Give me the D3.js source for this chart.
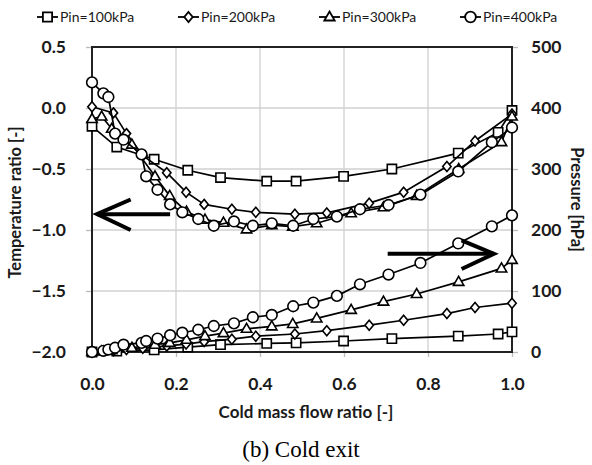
<!DOCTYPE html>
<html>
<head>
<meta charset="utf-8">
<script src="https://cdn.jsdelivr.net/npm/d3@7"></script>
<style>
body { margin: 0; background: #fff; }
svg text { font-family: Lato, "Open Sans", sans-serif; }
</style>
</head>
<body>
<div id="chart"></div>
<script>
// series names and markers
var seriesNames = ["Pin=100kPa", "Pin=200kPa", "Pin=300kPa", "Pin=400kPa"];
var seriesMarks = ["square", "diamond", "triangle", "circle"];

// Pin=100kPa
var x100 = [0, 0.059, 0.148, 0.228, 0.306, 0.416, 0.486, 0.599, 0.714, 0.872, 0.967, 1.0];
var t100 = [-0.15, -0.32, -0.42, -0.51, -0.57, -0.60, -0.60, -0.56, -0.50, -0.37, -0.20, -0.02];
var p100 = [0, 1.5, 3.5, 8, 12, 14, 15, 18, 22, 26, 29.5, 33];

// Pin=200kPa
var x200 = [0, 0.051, 0.082, 0.121, 0.178, 0.224, 0.267, 0.333, 0.39, 0.483, 0.559, 0.66, 0.742, 0.845, 0.912, 1.0];
var t200 = [0.01, -0.04, -0.21, -0.39, -0.53, -0.69, -0.79, -0.83, -0.855, -0.87, -0.86, -0.78, -0.69, -0.48, -0.27, -0.05];
var p200 = [0, 2, 4, 6, 10, 13, 17, 21, 26, 29.5, 35, 44, 52, 63, 73, 80];

// Pin=300kPa
var x300 = [0, 0.023, 0.047, 0.095, 0.15, 0.185, 0.225, 0.269, 0.313, 0.368, 0.428, 0.478, 0.535, 0.617, 0.694, 0.773, 0.873, 0.975, 1.0];
var t300 = [-0.09, -0.07, -0.17, -0.30, -0.56, -0.72, -0.85, -0.915, -0.94, -0.995, -0.96, -0.973, -0.945, -0.863, -0.814, -0.72, -0.50, -0.28, -0.07];
var p300 = [0, 1, 3, 7, 12, 15, 20, 26, 31, 38, 42, 46, 55, 69, 82.5, 95, 115, 137, 151];

// Pin=400kPa
var x400 = [0, 0.027, 0.039, 0.055, 0.075, 0.118, 0.129, 0.156, 0.186, 0.215, 0.253, 0.29, 0.338, 0.383, 0.428, 0.479, 0.527, 0.583, 0.638, 0.706, 0.782, 0.872, 0.952, 1.0];
var t400 = [0.21, 0.12, 0.09, -0.21, -0.26, -0.38, -0.56, -0.67, -0.79, -0.855, -0.91, -0.965, -0.93, -0.965, -0.945, -0.965, -0.91, -0.89, -0.83, -0.795, -0.71, -0.52, -0.28, -0.16];
var p400 = [0, 2, 4, 7, 12, 15, 18, 22, 27.5, 31.6, 36.5, 42.6, 47, 57, 60.7, 75, 81, 92, 111, 127, 146, 178, 206, 224];

// tick values
var xTicks = [0, 0.2, 0.4, 0.6, 0.8, 1.0];
var tTicks = [0.5, 0.0, -0.5, -1.0, -1.5, -2.0];
var pTicks = [500, 400, 300, 200, 100, 0];

var svgWidth = 592, svgHeight = 465;
var margin = { top: 47, right: 80, bottom: 113, left: 92 };
var width = svgWidth - margin.left - margin.right;
var height = svgHeight - margin.top - margin.bottom;

var svg = d3.select("#chart").append("svg")
    .attr("width", svgWidth)
    .attr("height", svgHeight);

var g = svg.append("g")
    .attr("transform", "translate(" + margin.left + "," + margin.top + ")");

var x = d3.scaleLinear().domain([0, 1]).range([0, width]);
var yT = d3.scaleLinear().domain([-2, 0.5]).range([height, 0]);
var yP = d3.scaleLinear().domain([0, 500]).range([height, 0]);

// grid
g.append("g").selectAll("line").data(xTicks.slice(1, -1)).enter().append("line")
    .attr("x1", d => x(d)).attr("x2", d => x(d))
    .attr("y1", 0).attr("y2", height)
    .attr("stroke", "#d0d0d0").attr("stroke-width", 1.3);
g.append("g").selectAll("line").data(tTicks.slice(1, -1)).enter().append("line")
    .attr("x1", 0).attr("x2", width)
    .attr("y1", d => yT(d)).attr("y2", d => yT(d))
    .attr("stroke", "#d0d0d0").attr("stroke-width", 1.3);

// axes
var axL = g.append("g")
    .call(d3.axisLeft(yT).tickValues(tTicks).tickFormat(d3.format(".1f")).tickSize(6).tickPadding(20));
var axR = g.append("g").attr("transform", "translate(" + width + ",0)")
    .call(d3.axisRight(yP).tickValues(pTicks).tickSize(6).tickPadding(13));
var axB = g.append("g").attr("transform", "translate(0," + height + ")")
    .call(d3.axisBottom(x).tickValues(xTicks).tickFormat(d3.format(".1f")).tickSize(5).tickPadding(21));
[axL, axR, axB].forEach(function (a) {
    a.select(".domain").remove();
    a.selectAll(".tick line").attr("stroke", "#bbbbbb").attr("stroke-width", 1.3);
    a.selectAll(".tick text").attr("font-family", "Lato, sans-serif")
        .attr("font-size", 17.5).attr("font-weight", "bold").attr("fill", "#1a1a1a");
});

// frame
g.append("rect").attr("x", 0).attr("y", 0).attr("width", width).attr("height", height)
    .attr("fill", "none").attr("stroke", "#222").attr("stroke-width", 2);

// series
var line = d3.line();
function markerPath(type) {
    if (type === "square") return d3.symbol(d3.symbolSquare, 85)();
    if (type === "diamond") return "M0,-5L4.2,0L0,5L-4.2,0Z";
    if (type === "triangle") return "M0,-5.5L5.2,3.5L-5.2,3.5Z";
    return d3.symbol(d3.symbolCircle, 90)();
}

function drawSeries(xs, ys, scale, mark) {
    var pts = xs.map(function (v, i) { return [x(v), scale(ys[i])]; });
    var sg = g.append("g");
    sg.append("path").attr("d", line(pts))
        .attr("fill", "none").attr("stroke", "#000").attr("stroke-width", 1.7);
    sg.selectAll("path.m").data(pts).enter().append("path")
        .attr("class", "m")
        .attr("d", markerPath(mark))
        .attr("transform", d => "translate(" + d[0] + "," + d[1] + ")")
        .attr("fill", "#fff").attr("stroke", "#000").attr("stroke-width", 1.6);
}

var xsAll = [x100, x200, x300, x400];
var tsAll = [t100, t200, t300, t400];
var psAll = [p100, p200, p300, p400];
for (var i = 0; i < 4; i++) {
    drawSeries(xsAll[i], tsAll[i], yT, seriesMarks[i]);
}
for (var i = 0; i < 4; i++) {
    drawSeries(xsAll[i], psAll[i], yP, seriesMarks[i]);
}

// arrows
var arrowL = [[x(0.012), yT(-0.87)], [x(0.186), yT(-0.87)]];
g.append("path").attr("d", line(arrowL)).attr("stroke", "#000").attr("stroke-width", 4).attr("fill", "none");
g.append("path").attr("d", line([[x(0.092), yT(-0.75)], [x(0.012), yT(-0.87)], [x(0.092), yT(-1.0)]]))
    .attr("stroke", "#000").attr("stroke-width", 4).attr("fill", "none");
var arrowR = [[x(0.704), yP(161)], [x(0.957), yP(161)]];
g.append("path").attr("d", line(arrowR)).attr("stroke", "#000").attr("stroke-width", 4).attr("fill", "none");
g.append("path").attr("d", line([[x(0.88), yP(183)], [x(0.957), yP(161)], [x(0.88), yP(136)]]))
    .attr("stroke", "#000").attr("stroke-width", 4).attr("fill", "none");

// axis titles
svg.append("text").attr("transform", "translate(15," + (margin.top + height / 2 + 3) + ") rotate(-90)")
    .attr("text-anchor", "middle").attr("dy", "0.35em").attr("font-size", 16.5).attr("font-weight", "bold").attr("fill", "#1a1a1a")
    .text("Temperature ratio [-]");
svg.append("text").attr("transform", "translate(577," + (margin.top + height / 2) + ") rotate(90)")
    .attr("text-anchor", "middle").attr("dy", "0.35em").attr("font-size", 16.5).attr("font-weight", "bold").attr("fill", "#1a1a1a")
    .text("Pressure [hPa]");
svg.append("text").attr("x", 306).attr("y", 418)
    .attr("text-anchor", "middle").attr("font-size", 17).attr("font-weight", "bold").attr("fill", "#1a1a1a")
    .text("Cold mass flow ratio [-]");
svg.append("text").attr("x", 301).attr("y", 457)
    .attr("text-anchor", "middle").attr("font-size", 23).attr("fill", "#000")
    .style("font-family", "'Liberation Serif', serif")
    .text("(b) Cold exit");

// legend
var legX = [37, 178, 319, 460];
var leg = svg.append("g");
seriesNames.forEach(function (name, i) {
    var lg = leg.append("g").attr("transform", "translate(" + legX[i] + ",17)");
    lg.append("line").attr("x1", 0).attr("x2", 21).attr("y1", 0).attr("y2", 0)
        .attr("stroke", "#000").attr("stroke-width", 1.8);
    lg.append("path").attr("d", markerPath(seriesMarks[i])).attr("transform", "translate(10.5,0)")
        .attr("fill", "#fff").attr("stroke", "#000").attr("stroke-width", 1.8);
    lg.append("text").attr("x", 23).attr("y", 5).attr("font-size", 14).attr("fill", "#1a1a1a")
        .text(name);
});
</script>
</body>
</html>
